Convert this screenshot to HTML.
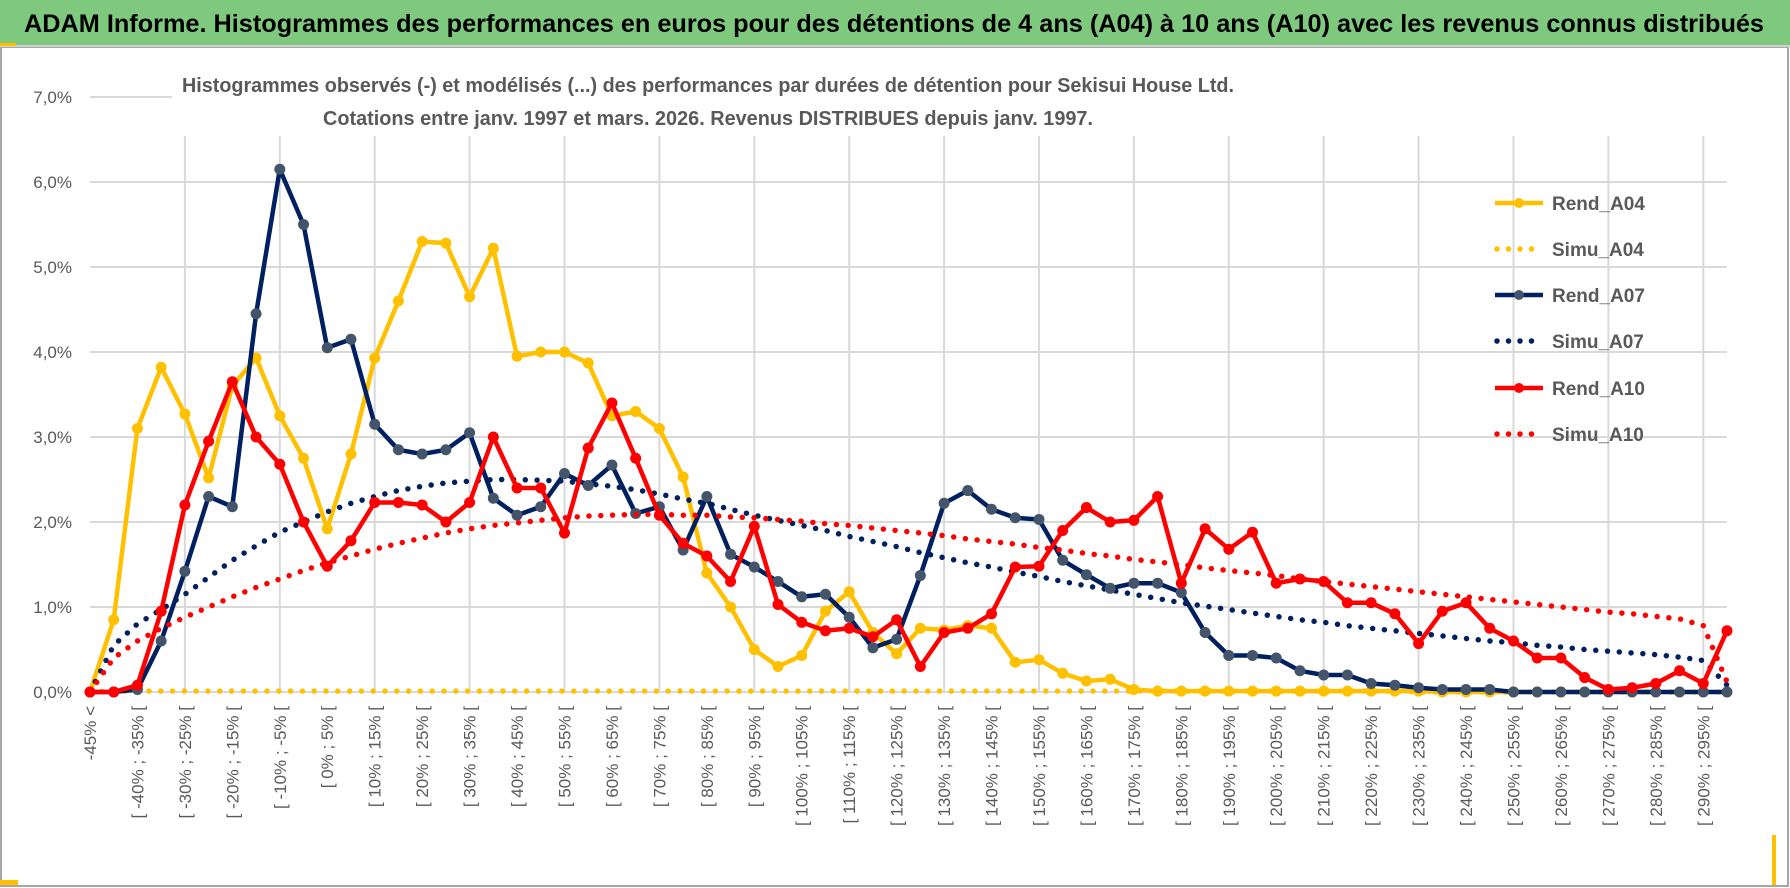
<!DOCTYPE html>
<html><head><meta charset="utf-8"><style>
html,body{margin:0;padding:0;background:#fff;}
svg{display:block;font-family:"Liberation Sans",sans-serif;}
</style></head><body>
<svg id="chart" width="1790" height="888" viewBox="0 0 1790 888">
  <rect x="0" y="0" width="1790" height="888" fill="#fff"/>
  <rect x="1" y="47" width="1787" height="839" fill="#fff" stroke="#a6a6a6" stroke-width="2"/>
  <rect x="0" y="0" width="1790" height="45" fill="#7fc97f"/>
  <line x1="0" y1="46" x2="1790" y2="46" stroke="#d0d0d0" stroke-width="2"/>
  <rect x="0" y="43" width="16" height="3" fill="#ffc000"/>
  <rect x="0" y="880" width="18" height="5" fill="#ffc000"/>
  <rect x="1772" y="835" width="4" height="50" fill="#ffc000"/>
  <text x="24" y="32" font-size="25" font-weight="bold" fill="#000" textLength="1740" lengthAdjust="spacingAndGlyphs">ADAM Informe. Histogrammes des performances en euros pour des détentions de 4 ans (A04) à 10 ans (A10) avec les revenus connus distribués</text>
  <g id="grid"></g>
  <rect x="172" y="88" width="1560" height="48" fill="#fff"/>
  <text x="708" y="92" text-anchor="middle" font-size="20" font-weight="bold" fill="#595959" textLength="1052" lengthAdjust="spacingAndGlyphs">Histogrammes observés (-) et modélisés (...) des performances par durées de détention pour Sekisui House Ltd.</text>
  <text x="708" y="125" text-anchor="middle" font-size="20" font-weight="bold" fill="#595959" textLength="770" lengthAdjust="spacingAndGlyphs">Cotations entre janv. 1997 et mars. 2026.  Revenus DISTRIBUES depuis janv. 1997.</text>
  <g id="axes"></g>
  <g id="series"></g>
  <g id="legend"></g>
</svg>
<script>
const yTicks = [0,1,2,3,4,5,6,7];
const yTickLabels = ["0,0%","1,0%","2,0%","3,0%","4,0%","5,0%","6,0%","7,0%"];
const nCats = 70;
const rendA04 = [0,0.85,3.1,3.82,3.27,2.52,3.6,3.93,3.25,2.75,1.92,2.8,3.93,4.6,5.3,5.28,4.65,5.22,3.95,4.0,4.0,3.87,3.25,3.3,3.1,2.53,1.4,1.0,0.5,0.3,0.43,0.95,1.18,0.7,0.45,0.75,0.73,0.78,0.75,0.35,0.38,0.22,0.13,0.15,0.03,0.01,0.01,0.01,0.01,0.01,0.01,0.01,0.01,0.01,0.01,0.01,0.01,0,0,0,0,0,0,0,0,0,0,0,0,0];
const simuA04 = [0,0.01,0.01,0.01,0.01,0.01,0.01,0.01,0.01,0.01,0.01,0.01,0.01,0.01,0.01,0.01,0.01,0.01,0.01,0.01,0.01,0.01,0.01,0.01,0.01,0.01,0.01,0.01,0.01,0.01,0.01,0.01,0.01,0.01,0.01,0.01,0.01,0.01,0.01,0.01,0.01,0.01,0.01,0.01,0.01,0.01,0.01,0.01,0.01,0.01,0.01,0.01,0.01,0.01,0.01,0.01,0,0,0,0,0,0,0,0,0,0,0,0,0,0];
const rendA07 = [0,0,0.03,0.6,1.42,2.3,2.18,4.45,6.15,5.5,4.05,4.15,3.15,2.85,2.8,2.85,3.05,2.28,2.08,2.18,2.57,2.43,2.67,2.1,2.18,1.67,2.3,1.62,1.47,1.3,1.12,1.15,0.88,0.52,0.62,1.37,2.22,2.37,2.15,2.05,2.03,1.55,1.38,1.22,1.28,1.28,1.17,0.7,0.43,0.43,0.4,0.25,0.2,0.2,0.1,0.08,0.05,0.03,0.03,0.03,0,0,0,0,0,0,0,0,0,0];
const simuA07 = [0,0.55,0.8,0.97,1.15,1.35,1.55,1.72,1.88,2.0,2.12,2.22,2.3,2.37,2.42,2.46,2.48,2.5,2.5,2.49,2.48,2.45,2.42,2.38,2.33,2.27,2.22,2.15,2.08,2.02,1.96,1.9,1.83,1.77,1.71,1.64,1.58,1.52,1.47,1.41,1.36,1.3,1.25,1.2,1.15,1.1,1.05,1.01,0.97,0.93,0.89,0.85,0.82,0.78,0.75,0.72,0.69,0.66,0.63,0.6,0.58,0.55,0.53,0.5,0.48,0.46,0.44,0.41,0.37,0.08];
const rendA10 = [0,0,0.08,0.95,2.2,2.95,3.65,3.0,2.68,2.0,1.48,1.78,2.23,2.23,2.2,2.0,2.23,3.0,2.4,2.4,1.87,2.87,3.4,2.75,2.08,1.75,1.6,1.3,1.95,1.03,0.82,0.72,0.75,0.65,0.85,0.3,0.7,0.75,0.92,1.47,1.48,1.9,2.17,2.0,2.02,2.3,1.28,1.92,1.68,1.88,1.28,1.33,1.3,1.05,1.05,0.92,0.57,0.95,1.05,0.75,0.6,0.4,0.4,0.17,0.03,0.05,0.1,0.25,0.1,0.72];
const simuA10 = [0,0.4,0.6,0.75,0.88,1.0,1.12,1.23,1.33,1.43,1.52,1.6,1.68,1.75,1.81,1.87,1.92,1.96,1.99,2.02,2.05,2.07,2.08,2.09,2.09,2.08,2.08,2.06,2.05,2.03,2.01,1.98,1.96,1.93,1.9,1.87,1.84,1.8,1.77,1.74,1.7,1.67,1.63,1.6,1.56,1.53,1.5,1.46,1.43,1.4,1.37,1.33,1.3,1.27,1.24,1.21,1.18,1.15,1.12,1.09,1.06,1.03,1.0,0.97,0.94,0.92,0.89,0.86,0.78,0.12];
const seriesNames = ["Rend_A04","Simu_A04","Rend_A07","Simu_A07","Rend_A10","Simu_A10"];

const NS = "http://www.w3.org/2000/svg";
const X0 = 90, X1 = 1727, Y0 = 692, YTOP = 97;
const step = (X1 - X0) / (nCats - 1);
function xPos(i){ return X0 + i * step; }
function yPos(v){ return Y0 - (v / 7) * (Y0 - YTOP); }
function mk(tag, attrs, parent){ const e = document.createElementNS(NS, tag); for (const k in attrs) e.setAttribute(k, attrs[k]); parent.appendChild(e); return e; }

function catLabel(i){
  if (i === 0) return "-45% <";
  const a = -50 + 5*i, b = a + 5;
  return "[ " + a + "% ; " + b + "% [";
}

const grid = document.getElementById("grid");
yTicks.forEach(function(t){
  const l = mk("line", {x1:X0, x2:X1, y1:yPos(t), y2:yPos(t), stroke:"#d9d9d9", "stroke-width":2}, grid);
  
  
});
for (let i = 4; i < nCats; i += 4){
  const l = mk("line", {x1:xPos(i), x2:xPos(i), y1:135, y2:Y0, stroke:"#d9d9d9", "stroke-width":2}, grid);
  
  
}

const axes = document.getElementById("axes");
yTicks.forEach(function(t, k){
  const tx = mk("text", {x:72, y:yPos(t)+6, "text-anchor":"end", "font-size":17, fill:"#595959"}, axes);
  tx.textContent = yTickLabels[k];
  
  
});
for (let i = 0; i < nCats; i += 2){
  const x = xPos(i) + 6, y = 706;
  const tx = mk("text", {x:x, y:y, "text-anchor":"end", "font-size":17, fill:"#595959", transform:"rotate(-90 "+x+" "+y+")"}, axes);
  tx.textContent = catLabel(i);
  
  
}

const sg = document.getElementById("series");
function drawSolid(vals, color, mcolor, name){
  const g = mk("g", {}, sg);
  
  
  const pts = vals.map(function(v,i){ return xPos(i).toFixed(1)+","+yPos(v).toFixed(1); }).join(" ");
  mk("polyline", {points:pts, fill:"none", stroke:color, "stroke-width":4.5, "stroke-linejoin":"round"}, g);
  vals.forEach(function(v,i){
    const c = mk("circle", {cx:xPos(i), cy:yPos(v), r:5.5, fill:mcolor}, g);
    
    
  });
}
function drawDotted(vals, color, name){
  const pts = vals.map(function(v,i){ return xPos(i).toFixed(1)+","+yPos(v).toFixed(1); }).join(" ");
  const p = mk("polyline", {points:pts, fill:"none", stroke:color, "stroke-width":5.5, "stroke-linecap":"round", "stroke-dasharray":"0 11.8"}, sg);
  
  
}
drawDotted(simuA04, "#ffc000", "simu-a04-line");
drawSolid(rendA04, "#ffc000", "#ffc000", "rend-a04-line");
drawDotted(simuA07, "#002060", "simu-a07-line");
drawSolid(rendA07, "#002060", "#44546a", "rend-a07-line");
drawDotted(simuA10, "#ff0000", "simu-a10-line");
drawSolid(rendA10, "#ff0000", "#ff0000", "rend-a10-line");

const lg = document.getElementById("legend");
const legColors = ["#ffc000","#ffc000","#002060","#002060","#ff0000","#ff0000"];
const legY = [203,249,295,341,388,434];
seriesNames.forEach(function(n, k){
  const g = mk("g", {}, lg);
  
  
  const solid = n.indexOf("Rend") === 0;
  const y = legY[k];
  if (solid){
    mk("line", {x1:1495, x2:1543, y1:y, y2:y, stroke:legColors[k], "stroke-width":4.5}, g);
    mk("circle", {cx:1519, cy:y, r:5, fill:k===2?"#44546a":legColors[k]}, g);
  } else {
    mk("line", {x1:1497, x2:1543, y1:y, y2:y, stroke:legColors[k], "stroke-width":5.5, "stroke-linecap":"round", "stroke-dasharray":"0 11.5"}, g);
  }
  const t = mk("text", {x:1552, y:y+7, "font-size":19, "font-weight":"bold", fill:"#595959"}, g);
  t.textContent = n;
});
</script>
</body></html>
